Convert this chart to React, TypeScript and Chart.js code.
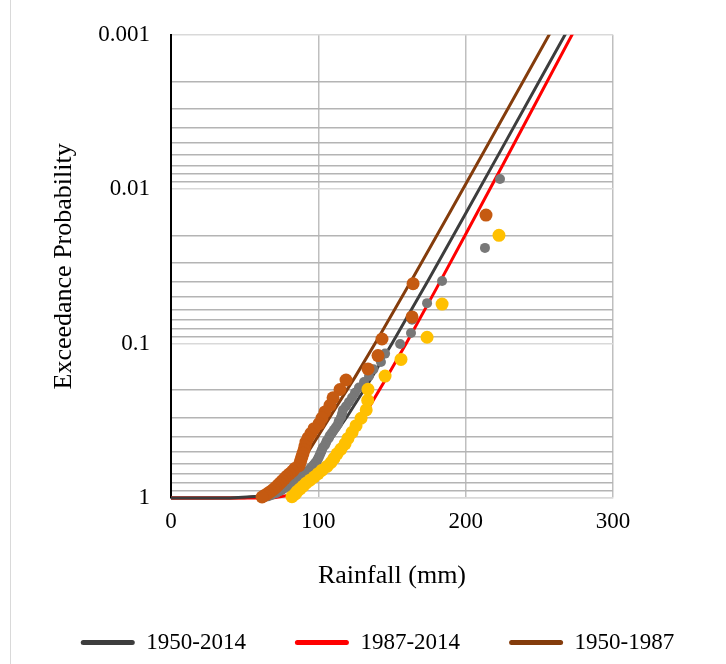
import React, { useEffect, useRef } from 'react';
import { Chart, registerables } from 'chart.js';

Chart.register(...registerables);

// ---------- data ----------
const seriesNames = ['1950-2014', '1987-2014', '1950-1987'];

// fitted distribution curves (rainfall mm, exceedance probability)
const fit5014Rain = [0, 40, 60, 70, 80, 90, 100, 110, 120, 135, 150, 175, 200, 225, 250, 275, 290];
const fit5014Prob = [1, 0.99974, 0.976, 0.9187, 0.8151, 0.6787, 0.5341, 0.4017, 0.2921, 0.1735, 0.0998, 0.03827, 0.01439, 0.005358, 0.001993, 0.000741, 0.000409];

const fit8714Rain = [0, 60, 70, 80, 90, 100, 110, 120, 130, 145, 160, 180, 200, 225, 250, 275, 290];
const fit8714Prob = [1, 0.9995, 0.995, 0.96, 0.87, 0.73, 0.575, 0.43, 0.305, 0.1749, 0.0982, 0.04421, 0.01959, 0.007015, 0.0025, 0.00089, 0.000479];

const fit5087Rain = [0, 40, 50, 60, 70, 80, 90, 100, 110, 125, 140, 165, 190, 215, 240, 260, 275];
const fit5087Prob = [1, 0.999, 0.995, 0.975, 0.9, 0.76, 0.56, 0.395, 0.2767, 0.1642, 0.0945, 0.03638, 0.01374, 0.00515, 0.001926, 0.000876, 0.000485];

// observed annual maxima (plotting positions)
const obs5014Rain = [223.3, 213.1, 184.0, 173.8, 163.6, 162.9, 155.5, 145.3, 142.5, 137.4,
  134.4, 131.0, 127.6, 124.9, 122.9, 120.8, 118.8, 116.7, 116.1, 115.4,
  114.0, 113.4, 112.0, 110.6, 109.3, 107.9, 107.2, 105.9, 105.2, 104.5,
  103.2, 102.5, 102.0, 101.4, 100.8, 100.2, 99.6, 99.0, 98.0, 97.0,
  96.0, 95.0, 94.0, 93.0, 92.0, 91.0, 89.8, 88.6, 87.3, 86.0,
  84.7, 83.4, 82.1, 80.9, 79.7, 78.5, 76.7, 75.3, 74.0, 72.6,
  71.3, 69.2, 67.9, 65.8, 63.1];
const obs5014Prob = [0.0086, 0.0240, 0.0393, 0.0547, 0.0700, 0.0854, 0.1007, 0.1161, 0.1314, 0.1468,
  0.1621, 0.1775, 0.1928, 0.2082, 0.2236, 0.2389, 0.2543, 0.2696, 0.2850, 0.3003,
  0.3157, 0.3310, 0.3464, 0.3617, 0.3771, 0.3925, 0.4078, 0.4232, 0.4385, 0.4539,
  0.4692, 0.4846, 0.4999, 0.5153, 0.5307, 0.5460, 0.5614, 0.5767, 0.5921, 0.6074,
  0.6228, 0.6382, 0.6535, 0.6689, 0.6842, 0.6996, 0.7149, 0.7303, 0.7457, 0.7610,
  0.7764, 0.7917, 0.8071, 0.8224, 0.8378, 0.8532, 0.8685, 0.8839, 0.8992, 0.9146,
  0.9300, 0.9453, 0.9607, 0.9760, 0.9914];

const obs8714Rain = [222.6, 184.0, 173.8, 156.1, 145.3, 133.7, 133.5, 132.5, 129.0, 125.6,
  122.9, 120.1, 118.1, 115.4, 112.7, 110.6, 108.6, 105.9, 102.5, 99.8,
  97.1, 94.3, 91.6, 89.6, 87.6, 85.5, 84.2, 82.1];
const obs8714Prob = [0.0199, 0.0555, 0.0910, 0.1266, 0.1622, 0.1977, 0.2333, 0.2688, 0.3044, 0.3400,
  0.3755, 0.4111, 0.4467, 0.4822, 0.5178, 0.5533, 0.5889, 0.6245, 0.6600, 0.6956,
  0.7312, 0.7667, 0.8023, 0.8378, 0.8734, 0.9090, 0.9445, 0.9801];

const obs5087Rain = [213.8, 164.3, 163.6, 143.2, 140.5, 133.7, 118.8, 114.7, 110.0, 107.9,
  104.5, 102.5, 100.5, 97.1, 95.0, 93.0, 91.6, 91.0, 90.3, 89.6,
  88.9, 88.2, 87.6, 86.9, 84.0, 82.5, 80.5, 78.5, 77.0, 75.5,
  74.0, 72.5, 71.0, 69.5, 67.7, 65.8, 63.8, 61.8];
const obs5087Prob = [0.0147, 0.0409, 0.0672, 0.0934, 0.1196, 0.1459, 0.1721, 0.1983, 0.2246, 0.2508,
  0.2770, 0.3033, 0.3295, 0.3557, 0.3819, 0.4082, 0.4344, 0.4607, 0.4869, 0.5131,
  0.5394, 0.5656, 0.5918, 0.6181, 0.6443, 0.6705, 0.6967, 0.7230, 0.7492, 0.7754,
  0.8017, 0.8279, 0.8541, 0.8804, 0.9066, 0.9328, 0.9591, 0.9853];

const yTickLabels = ['0.001', '0.01', '0.1', '1'];
const xAxisTitle = 'Rainfall (mm)';
const yAxisTitle = 'Exceedance Probability';

// ---------- styling ----------
const FONT = "'Liberation Serif', 'Times New Roman', serif";
const C_DARK = '#3d3d3d';
const C_RED = '#ff0000';
const C_BROWN = '#843c0c';
const C_GRAY_PT = '#787878';
const C_YELLOW_PT = '#ffc000';
const C_ORANGE_PT = '#c55a11';

const toPts = (xs: number[], ys: number[]) => xs.map((x, i) => ({ x, y: ys[i] }));
const isDecade = (v: number) => {
  const e = Math.log10(v);
  return Math.abs(e - Math.round(e)) < 1e-6;
};

export default function App() {
  const ref = useRef<HTMLCanvasElement>(null);

  useEffect(() => {
    const canvas = ref.current;
    if (!canvas) return;
    const lineClip = { left: 4, top: 0, right: 0, bottom: 4 };
    const chart = new Chart(canvas, {
      type: 'scatter',
      data: {
        datasets: [
          { label: 'obs ' + seriesNames[2], data: toPts(obs5087Rain, obs5087Prob), showLine: false,
            pointRadius: 6.5, pointBackgroundColor: C_ORANGE_PT, pointBorderWidth: 0, clip: false as any },
          { label: 'obs ' + seriesNames[1], data: toPts(obs8714Rain, obs8714Prob), showLine: false,
            pointRadius: 6.5, pointBackgroundColor: C_YELLOW_PT, pointBorderWidth: 0, clip: false as any },
          { label: 'obs ' + seriesNames[0], data: toPts(obs5014Rain, obs5014Prob), showLine: false,
            pointRadius: 5, pointBackgroundColor: C_GRAY_PT, pointBorderWidth: 0, clip: false as any },
          { label: seriesNames[0], data: toPts(fit5014Rain, fit5014Prob), showLine: true, pointRadius: 0,
            borderColor: C_DARK, backgroundColor: C_DARK, borderWidth: 3, clip: lineClip as any },
          { label: seriesNames[1], data: toPts(fit8714Rain, fit8714Prob), showLine: true, pointRadius: 0,
            borderColor: C_RED, backgroundColor: C_RED, borderWidth: 3, clip: lineClip as any },
          { label: seriesNames[2], data: toPts(fit5087Rain, fit5087Prob), showLine: true, pointRadius: 0,
            borderColor: C_BROWN, backgroundColor: C_BROWN, borderWidth: 3, clip: lineClip as any },
        ],
      },
      options: {
        responsive: false,
        animation: false,
        devicePixelRatio: 1,
        events: [],
        layout: { padding: { left: 29, right: 0, top: 33, bottom: 0 } },
        scales: {
          x: {
            type: 'linear',
            min: 0,
            max: 300,
            ticks: { stepSize: 100, color: '#000', font: { family: FONT, size: 23 }, padding: 10 },
            grid: {
              drawTicks: false,
              lineWidth: 1.5,
              color: (ctx: any) => (ctx.tick && ctx.tick.value === 0 ? 'rgba(0,0,0,0)' : '#bfbfbf'),
            },
            border: { color: '#d9d9d9', width: 1.5 },
            title: { display: true, text: xAxisTitle, color: '#000', font: { family: FONT, size: 26 },
              padding: { top: 0, bottom: -10 } },
            afterFit: (s: any) => { s.height = 84; },
          },
          y: {
            type: 'logarithmic',
            reverse: true,
            min: 0.001,
            max: 1,
            afterBuildTicks: (s: any) => {
              const t: { value: number }[] = [];
              for (let e = -3; e < 0; e++) {
                for (let m = 1; m <= 9; m++) t.push({ value: parseFloat((m * Math.pow(10, e)).toPrecision(3)) });
              }
              t.push({ value: 1 });
              s.ticks = t;
            },
            ticks: {
              autoSkip: false,
              color: '#000',
              padding: 21,
              font: { family: FONT, size: 23 },
              callback: (v: any) => {
                const n = Number(v);
                if (!isDecade(n)) return '';
                return yTickLabels[Math.round(Math.log10(n)) + 3];
              },
            },
            grid: {
              drawTicks: false,
              lineWidth: 1.5,
              color: (ctx: any) => (ctx.tick && isDecade(ctx.tick.value) ? '#d9d9d9' : '#b4b4b4'),
            },
            border: { color: '#000', width: 2 },
            title: { display: true, text: yAxisTitle, color: '#000', font: { family: FONT, size: 26 },
              padding: { top: 20, bottom: 0 } },
            afterFit: (s: any) => { s.width = 142; },
          },
          yRight: {
            type: 'linear',
            position: 'right',
            display: true,
            ticks: { display: false },
            grid: { display: false, drawOnChartArea: false },
            border: { display: false },
            afterFit: (s: any) => { s.width = 113; },
          },
        },
        plugins: {
          tooltip: { enabled: false },
          legend: {
            position: 'bottom',
            align: 'center',
            labels: {
              boxWidth: 54,
              boxHeight: 5,
              padding: 49,
              color: '#000',
              font: { family: FONT, size: 23 },
              useBorderRadius: true,
              borderRadius: 2.5,
              generateLabels: (ch: any) => {
                const items = (Chart.defaults.plugins.legend.labels as any).generateLabels(ch);
                return items
                  .filter((it: any) => it.datasetIndex >= 3)
                  .map((it: any) => ({ ...it, fillStyle: it.strokeStyle, lineWidth: 0, borderRadius: 2.5 }));
              },
            },
          } as any,
        },
      } as any,
    });
    return () => chart.destroy();
  }, []);

  return (
    <div style={{ position: 'fixed', left: 0, top: 0, width: 726, height: 664, background: '#fff' }}>
      <div style={{ position: 'absolute', left: 10, top: 0, width: 1, height: 664, background: '#d9d9d9' }} />
      <canvas ref={ref} width={726} height={664} style={{ position: 'absolute', left: 0, top: 0, width: 726, height: 664 }} />
    </div>
  );
}
